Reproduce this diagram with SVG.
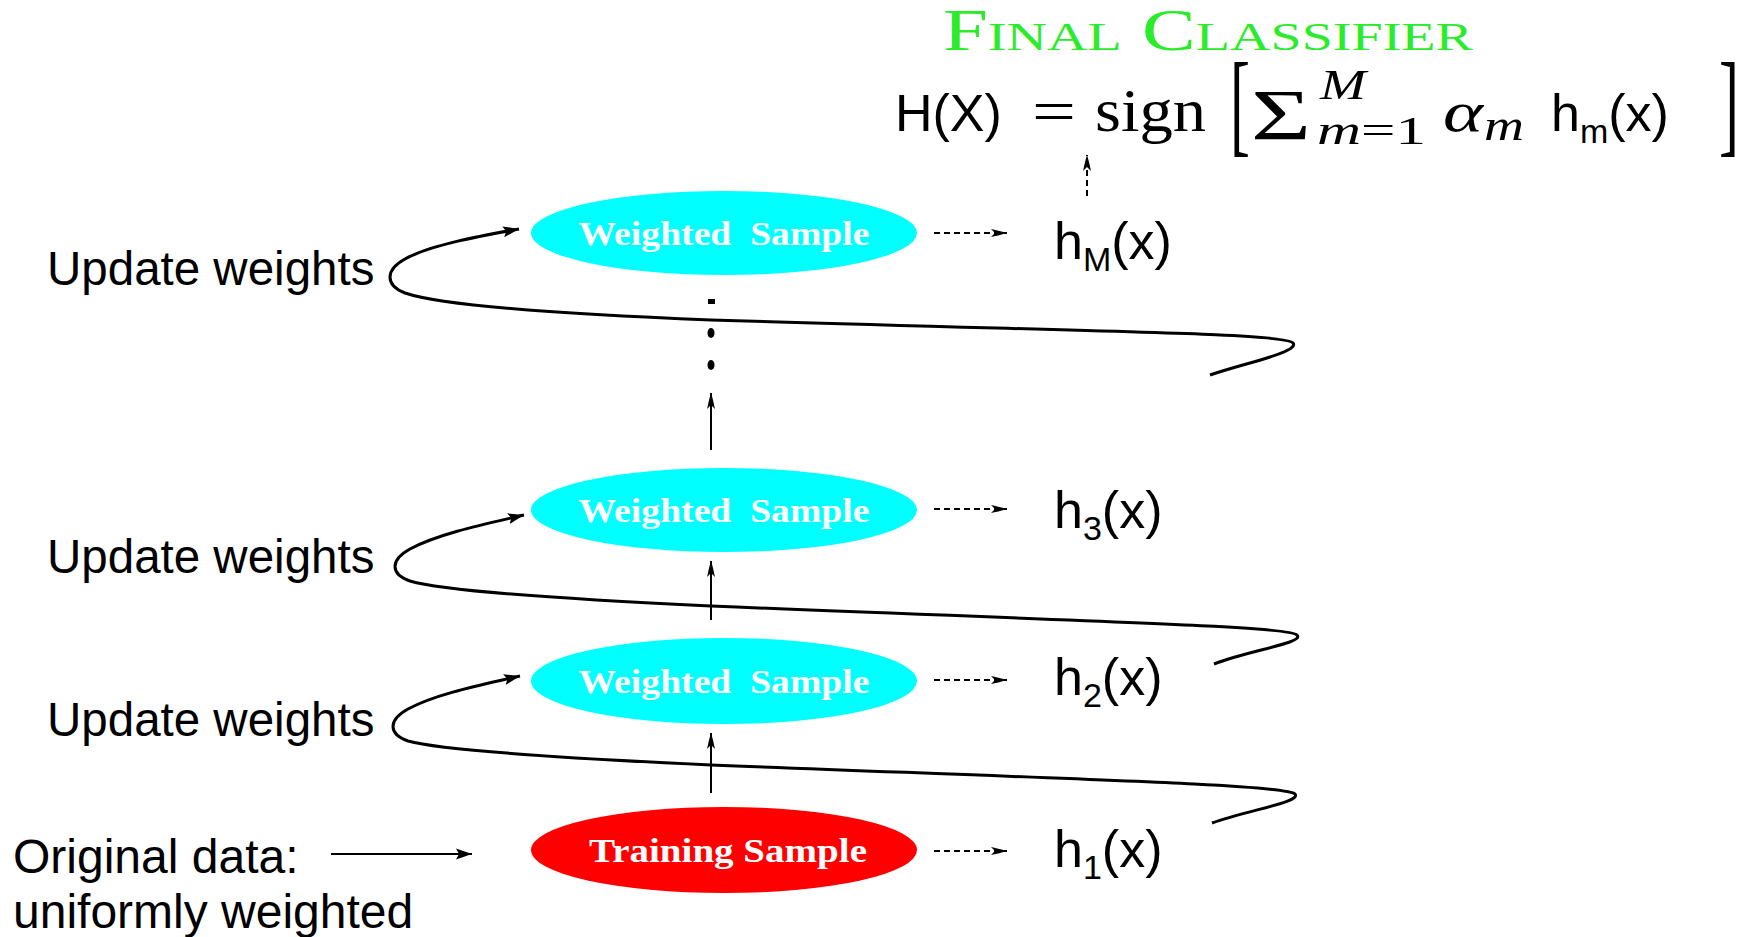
<svg xmlns="http://www.w3.org/2000/svg" width="1743" height="937" viewBox="0 0 1743 937">
<style>
.lbl{font-family:"Liberation Sans",Arial,sans-serif;font-size:47.5px;fill:#000}
.hl{font-family:"Liberation Sans",Arial,sans-serif;font-size:52px;fill:#000}
.et{font-family:"Liberation Serif","Times New Roman",serif;font-weight:bold;font-size:33px;fill:#fff;text-anchor:middle}
.m{font-family:"Liberation Serif","Times New Roman",serif;fill:#000}
.loop{fill:none;stroke:#000;stroke-width:3}
.va{fill:none;stroke:#000;stroke-width:2}
.da{fill:none;stroke:#000;stroke-width:2;stroke-dasharray:6 4}
</style>
<defs>
<marker id="ah" markerUnits="userSpaceOnUse" markerWidth="20" markerHeight="14" refX="16" refY="7" orient="auto">
<path d="M0,1.5 L16,7 L0,12.5 L3,7 z" fill="#000"/>
</marker>
<marker id="an" markerUnits="userSpaceOnUse" markerWidth="20" markerHeight="10" refX="16" refY="5" orient="auto">
<path d="M0,1 C4,2 10,3 16,5 C10,7 4,8 0,9 L4,5 z" fill="#000"/>
</marker>
</defs>

<g id="title">
<text class="m" x="943" y="50" font-size="59" font-variant="small-caps" fill="#2bec2b" style="fill:#2bec2b" textLength="530" lengthAdjust="spacingAndGlyphs">Final Classifier</text>
</g>

<g id="formula">
<text class="hl" x="895" y="131">H(X)</text>
<text class="m" x="1032" y="131" font-size="60" textLength="44" lengthAdjust="spacingAndGlyphs">=</text>
<text class="m" x="1095" y="131" font-size="62" textLength="111" lengthAdjust="spacingAndGlyphs">sign</text>
<text class="m" x="1230" y="75" font-size="60" transform="scale(1,1.9)">[</text>
<text class="m" x="1251" y="139" font-size="72" textLength="60" lengthAdjust="spacingAndGlyphs">Σ</text>
<text class="m" x="1320" y="99" font-size="42" font-style="italic" textLength="46" lengthAdjust="spacingAndGlyphs">M</text>
<text class="m" x="1317" y="144" font-size="40" textLength="109" lengthAdjust="spacingAndGlyphs"><tspan font-style="italic">m</tspan>=1</text>
<text class="m" x="1443" y="131" font-size="58" font-style="italic" textLength="40" lengthAdjust="spacingAndGlyphs">α</text>
<text class="m" x="1484" y="140" font-size="44" font-style="italic" textLength="40" lengthAdjust="spacingAndGlyphs">m</text>
<text class="hl" x="1551" y="131">h<tspan font-size="34" dy="12">m</tspan><tspan dy="-12">(x)</tspan></text>
<text class="m" x="1719" y="75" font-size="60" transform="scale(1,1.9)">]</text>
</g>

<g id="node-wM">
<ellipse cx="724" cy="233" rx="193" ry="42" fill="#00ffff"/>
<text class="et" x="724" y="245" xml:space="preserve" textLength="291" lengthAdjust="spacingAndGlyphs">Weighted  Sample</text>
</g>
<g id="node-w3">
<ellipse cx="724" cy="510" rx="193" ry="42" fill="#00ffff"/>
<text class="et" x="724" y="522" xml:space="preserve" textLength="291" lengthAdjust="spacingAndGlyphs">Weighted  Sample</text>
</g>
<g id="node-w2">
<ellipse cx="724" cy="681" rx="193" ry="43" fill="#00ffff"/>
<text class="et" x="724" y="693" xml:space="preserve" textLength="291" lengthAdjust="spacingAndGlyphs">Weighted  Sample</text>
</g>
<g id="node-train">
<ellipse cx="724" cy="850" rx="193" ry="43" fill="#ff0000"/>
<text class="et" x="728" y="862" textLength="278" lengthAdjust="spacingAndGlyphs">Training Sample</text>
</g>

<g id="label-hM"><text class="hl" x="1054" y="259">h<tspan font-size="34" dy="12">M</tspan><tspan dy="-12">(x)</tspan></text></g>
<g id="label-h3"><text class="hl" x="1054" y="528">h<tspan font-size="34" dy="12">3</tspan><tspan dy="-12">(x)</tspan></text></g>
<g id="label-h2"><text class="hl" x="1054" y="695">h<tspan font-size="34" dy="12">2</tspan><tspan dy="-12">(x)</tspan></text></g>
<g id="label-h1"><text class="hl" x="1054" y="867">h<tspan font-size="34" dy="12">1</tspan><tspan dy="-12">(x)</tspan></text></g>

<g id="label-update1"><text class="lbl" x="47" y="285">Update weights</text></g>
<g id="label-update2"><text class="lbl" x="47" y="573">Update weights</text></g>
<g id="label-update3"><text class="lbl" x="47" y="736">Update weights</text></g>
<g id="label-original">
<text class="lbl" x="13" y="873" style="font-size:48px">Original data:</text>
<text class="lbl" x="13" y="928" style="font-size:48px">uniformly weighted</text>
</g>

<g id="dots">
<rect x="708" y="299" width="7" height="5" fill="#000"/>
<ellipse cx="711" cy="333" rx="3.5" ry="5" fill="#000"/>
<ellipse cx="711" cy="365" rx="3.5" ry="5" fill="#000"/>
</g>

<g id="connectors">
<line class="va" x1="711" y1="450" x2="711" y2="393" marker-end="url(#an)"/>
<line class="va" x1="711" y1="620" x2="711" y2="561" marker-end="url(#an)"/>
<line class="va" x1="711" y1="793" x2="711" y2="733" marker-end="url(#an)"/>
<line class="va" x1="331" y1="854" x2="472" y2="854" stroke-width="3" marker-end="url(#ah)"/>
<line class="da" x1="934" y1="233" x2="1007" y2="233" stroke-width="3" marker-end="url(#an)"/>
<line class="da" x1="934" y1="509" x2="1007" y2="509" stroke-width="1.5" marker-end="url(#an)"/>
<line class="da" x1="934" y1="680" x2="1007" y2="680" stroke-width="3" marker-end="url(#an)"/>
<line class="da" x1="934" y1="851" x2="1007" y2="851" stroke-width="1.5" marker-end="url(#an)"/>
<line class="da" x1="1087" y1="196" x2="1087" y2="155" stroke-width="2" marker-end="url(#an)"/>
<path class="loop" d="M 1210 375 C 1245 363, 1300 352, 1293 343 C 1285 333, 1100 332, 711 320 C 560 314, 440 305, 405 293 C 385 285, 385 270, 405 259 C 430 245, 480 236, 519 229" marker-end="url(#ah)"/>
<path class="loop" d="M 1214 664 C 1250 650, 1305 643, 1297 635 C 1288 626, 1100 622, 711 606 C 560 599, 440 590, 410 581 C 390 574, 390 560, 410 549 C 440 533, 490 523, 524 515" marker-end="url(#ah)"/>
<path class="loop" d="M 1212 823 C 1248 810, 1302 802, 1295 794 C 1286 785, 1100 780, 711 765 C 560 758, 440 750, 408 741 C 388 734, 388 720, 408 709 C 438 693, 486 684, 520 676" marker-end="url(#ah)"/>
</g>
</svg>
